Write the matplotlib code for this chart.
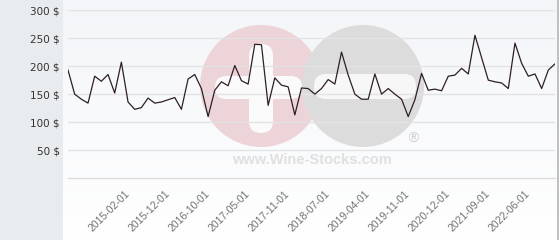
import numpy as np
from matplotlib import pyplot as plt
from matplotlib.patches import Circle, FancyBboxPatch, Rectangle

plt.rcParams["font.family"] = "DejaVu Sans"

# monthly price points
prices = [
    193, 150, 141, 134, 182, 173, 185, 152, 207, 136,
    123, 126, 143, 134, 136, 140, 144, 123, 177, 185,
    160, 110, 157, 172, 165, 201, 174, 168, 239, 238,
    130, 179, 166, 163, 113, 161, 160, 150, 160, 176,
    168, 225, 184, 150, 141, 141, 186, 150, 160, 150,
    141, 110, 140, 187, 157, 159, 156, 182, 184, 196,
    186, 255, 215, 175, 172, 170, 160, 241, 205, 182,
    186, 160, 193, 204,
]
tick_labels = [
    "2015-02-01", "2015-12-01", "2016-10-01", "2017-05-01",
    "2017-11-01", "2018-07-01", "2019-04-01", "2019-11-01",
    "2020-12-01", "2021-09-01", "2022-06-01",
]
y_ticks = [50, 100, 150, 200, 250, 300]

W, H = 560, 240
fig = plt.figure(figsize=(W / 100, H / 100), dpi=100)
fig.patch.set_facecolor("white")

# background layer in pixel coordinates
bg = fig.add_axes([0, 0, 1, 1])
bg.set_xlim(0, W)
bg.set_ylim(H, 0)
bg.axis("off")
grad = np.linspace(0, 1, 100).reshape(-1, 1)
top = np.array([0.953, 0.961, 0.973])
bot = np.array([1.0, 1.0, 1.0])
img = top + (bot - top) * grad[..., None]
bg.imshow(img, extent=(63, 557, H, 0), aspect="auto", zorder=0)
bg.add_patch(Rectangle((0, 0), 63, H, color="#e8ecef", lw=0, zorder=1))
bg.plot([558, 558], [0, H], color="#b4b4b4", lw=1.2, zorder=1)

# watermark logo
bg.add_patch(Circle((261, 86), 61, color="#ecd4d9", lw=0, zorder=2))
bg.add_patch(FancyBboxPatch((215, 76), 87, 23, boxstyle="round,pad=0,rounding_size=11",
                            color="#fafafb", lw=0, zorder=3))
bg.add_patch(FancyBboxPatch((249, 44), 24, 89, boxstyle="round,pad=0,rounding_size=12",
                            color="#fafafb", lw=0, zorder=3))
bg.add_patch(Circle((363, 86), 61, color="#dcdcdd", lw=0, zorder=4))
bg.add_patch(FancyBboxPatch((314, 74), 102, 25, boxstyle="round,pad=0,rounding_size=12",
                            color="#f7f7f8", lw=0, zorder=5))
bg.text(413, 139, "®", fontsize=10, color="#d2d2d2", ha="center", va="center", zorder=5)
bg.text(312, 160, "www.Wine-Stocks.com", fontsize=10.5, fontweight="bold",
        family="Liberation Sans", color="#e0e0e0", ha="center", va="center", zorder=5)

# chart
ax = fig.add_axes([68 / W, 1 - 178.3 / H, 487 / W, 168.3 / H])
ax.patch.set_alpha(0)
x = np.arange(len(prices))
ax.plot(x, prices, color="#2e1f27", lw=0.9, zorder=3)
ax.set_xlim(0, len(prices) - 1)
ax.set_ylim(0, 300)

ax.set_yticks(y_ticks)
ax.set_yticklabels([f"{v} $" for v in y_ticks], fontsize=7.5, color="#333333")
ax.grid(axis="y", color="#e3e3e3", lw=1)
ax.axhline(0, color="#dcdcdc", lw=1, clip_on=False)

ax.set_xticks(range(9, 9 + 6 * len(tick_labels), 6))
ax.set_xticklabels(tick_labels, rotation=45, ha="right", va="center",
                   rotation_mode="anchor", fontsize=7.5, color="#707070",
                   family="Liberation Sans")
ax.tick_params(axis="x", length=0, pad=10)
ax.tick_params(axis="y", length=0, pad=6)
for s in ax.spines.values():
    s.set_visible(False)

fig.savefig("out.png", dpi=100)
